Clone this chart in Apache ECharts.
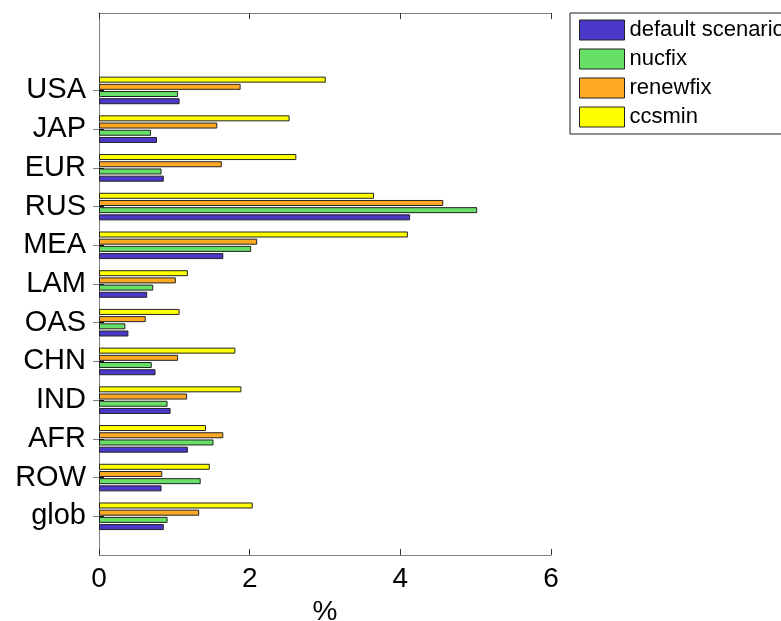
<!DOCTYPE html>
<html>
<head>
<meta charset="utf-8">
<script src="https://cdn.jsdelivr.net/npm/echarts@6/dist/echarts.min.js"></script>
<style>
  html, body { margin: 0; padding: 0; background: #fff; }
  #chart { width: 781px; height: 621px; }
</style>
</head>
<body>
<div id="chart"></div>
<script>
// regions, bottom to top
const regions = ["glob", "ROW", "AFR", "IND", "CHN", "OAS", "LAM", "MEA", "RUS", "EUR", "JAP", "USA"];

// values in the same order as regions
const defaultScenario = [0.86, 0.83, 1.18, 0.95, 0.75, 0.39, 0.64, 1.65, 4.13, 0.86, 0.77, 1.07];
const nucfix = [0.91, 1.35, 1.52, 0.91, 0.70, 0.35, 0.72, 2.02, 5.02, 0.83, 0.69, 1.05];
const renewfix = [1.33, 0.84, 1.65, 1.17, 1.05, 0.62, 1.02, 2.10, 4.57, 1.63, 1.57, 1.88];
const ccsmin = [2.04, 1.47, 1.42, 1.89, 1.81, 1.07, 1.18, 4.10, 3.65, 2.62, 2.53, 3.01];

const seriesNames = ["default scenario", "nucfix", "renewfix", "ccsmin"];
const xMin = 0;
const xMax = 6;
const xStep = 2;

const colors = {
  "default scenario": "#4a38c8",
  nucfix: "#66e066",
  renewfix: "#ffaa22",
  ccsmin: "#ffff00",
};

// one empty slot below, two above (like the matlab axis limits)
const yCats = [""].concat(regions, ["", ""]);
const pad = (arr) => ["-"].concat(arr, ["-", "-"]);

const font = "Liberation Sans, Arial, Helvetica, sans-serif";
const axisGray = "#808080";

const chart = echarts.init(document.getElementById("chart"));

const makeSeries = (name, data) => ({
  name: name,
  type: "bar",
  data: pad(data),
  barWidth: 6,
  barGap: "20%",
  itemStyle: {
    color: colors[name],
    borderColor: "#222",
    borderWidth: 1,
  },
  animation: false,
});

const onlyNamed = (idx, val) => val !== "";

chart.setOption({
  animation: false,
  textStyle: { fontFamily: font },
  grid: { left: 99, right: 230, top: 13, bottom: 66, containLabel: false, outerBoundsMode: "none" },
  legend: {
    data: seriesNames,
    orient: "vertical",
    left: 570,
    top: 13,
    padding: [6, 9, 6, 9],
    itemWidth: 45,
    itemHeight: 20,
    itemGap: 7,
    backgroundColor: "#fff",
    borderColor: "#222",
    borderWidth: 1,
    borderRadius: 0,
    icon: "rect",
    itemStyle: { borderColor: "#222", borderWidth: 1 },
    textStyle: { fontSize: 22, lineHeight: 20, color: "#000", fontFamily: font },
    selectedMode: false,
  },
  xAxis: [
    {
      type: "value",
      min: xMin,
      max: xMax,
      interval: xStep,
      position: "bottom",
      name: "%",
      nameLocation: "middle",
      nameGap: 40,
      nameTextStyle: { fontSize: 28, color: "#000", fontFamily: font },
      axisLine: { show: true, lineStyle: { color: axisGray, width: 1 } },
      axisTick: { show: true, inside: true, length: 6, lineStyle: { color: "#333" } },
      axisLabel: { fontSize: 28, color: "#000", margin: 10, fontFamily: font },
      splitLine: { show: false },
    },
    {
      type: "value",
      min: xMin,
      max: xMax,
      interval: xStep,
      position: "top",
      axisLine: { show: true, lineStyle: { color: axisGray, width: 1 } },
      axisTick: { show: true, inside: true, length: 6, lineStyle: { color: "#333" } },
      axisLabel: { show: false },
      splitLine: { show: false },
    },
  ],
  yAxis: [
    {
      type: "category",
      data: yCats,
      boundaryGap: false,
      position: "left",
      axisLine: { show: true, lineStyle: { color: axisGray, width: 1 } },
      axisTick: { show: true, inside: true, length: 5, interval: onlyNamed, lineStyle: { color: "#111" } },
      axisLabel: { interval: onlyNamed, fontSize: 29, color: "#000", margin: 13, fontFamily: font },
      splitLine: { show: false },
    },
    {
      type: "category",
      data: yCats,
      boundaryGap: false,
      position: "right",
      axisLine: { show: true, lineStyle: { color: axisGray, width: 1 } },
      axisTick: { show: true, inside: true, length: 6, interval: onlyNamed, lineStyle: { color: axisGray } },
      axisLabel: { show: false },
      splitLine: { show: false },
    },
  ],
  // top-to-bottom inside a group: ccsmin, renewfix, nucfix, default
  series: [
    makeSeries("ccsmin", ccsmin),
    makeSeries("renewfix", renewfix),
    makeSeries("nucfix", nucfix),
    makeSeries("default scenario", defaultScenario),
  ],
});

window.addEventListener("resize", () => {
  chart.resize();
});
</script>
</body>
</html>
